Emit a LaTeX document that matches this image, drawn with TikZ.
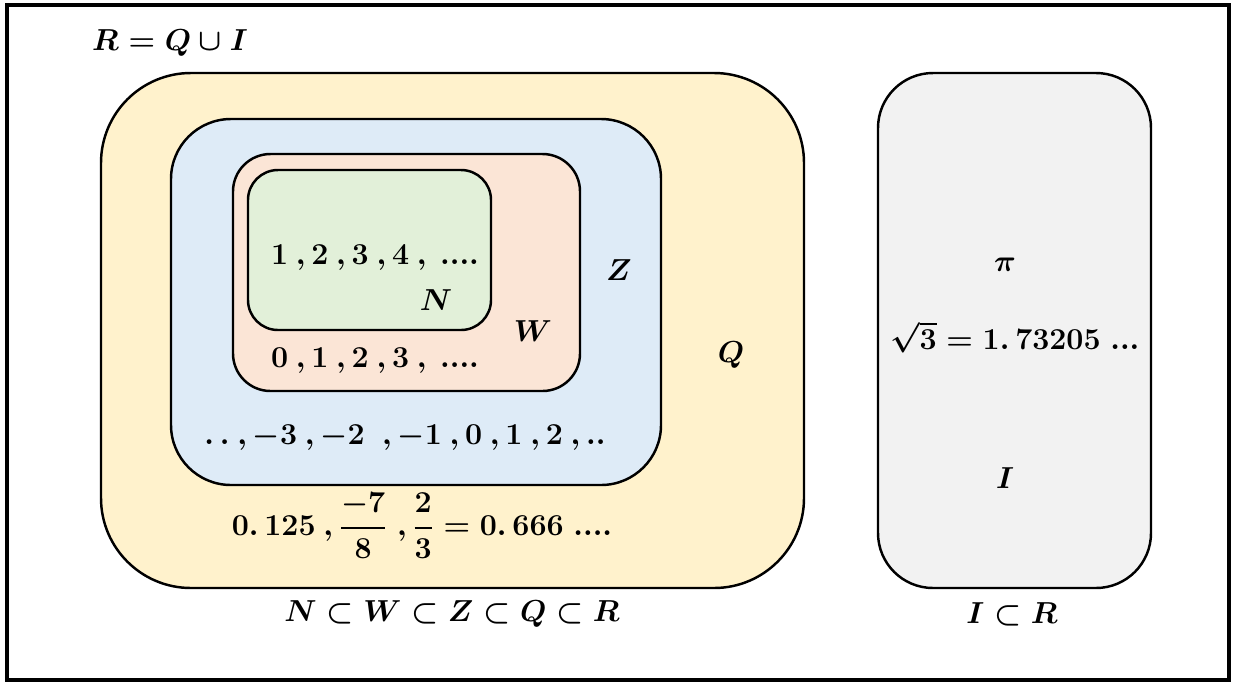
\documentclass[tikz,border=0pt]{standalone}
\usepackage{amsmath}
\definecolor{ink}{HTML}{000000}
\definecolor{qfill}{HTML}{FFF2CC}
\definecolor{zfill}{HTML}{DEEBF7}
\definecolor{wfill}{HTML}{FBE5D6}
\definecolor{nfill}{HTML}{E2F0D9}
\definecolor{ifill}{HTML}{F2F2F2}
\tikzset{
  setbox/.style={draw=ink,line width=1.4pt},
  lbl/.style={font=\fontsize{17.5}{21}\selectfont\boldmath,text=ink,inner sep=1pt}
}
\begin{document}
\begin{tikzpicture}[x=0.02cm,y=-0.02cm]
  \useasboundingbox (0,0) rectangle (1233,684);
  \draw[ink,line width=1.8pt] (7,5) rectangle (1229,680);
  \draw[setbox,fill=qfill,rounded corners=1.8cm] (101,73) rectangle (804,588);
  \draw[setbox,fill=zfill,rounded corners=1.2cm] (171,119) rectangle (661,485);
  \draw[setbox,fill=wfill,rounded corners=0.75cm] (233,154) rectangle (580,391);
  \draw[setbox,fill=nfill,rounded corners=0.6cm] (248,170) rectangle (491,330);
  \draw[setbox,fill=ifill,rounded corners=1.1cm] (878,73) rectangle (1151,588);
  \node[lbl] (union) at (170,43) {$R=Q\cup I$};
  \node[lbl] (natv) at (375,258) {$1\:,2\:,3\:,4\:,\:....$};
  \node[lbl] (natn) at (436,300) {$N$};
  \node[lbl] (whln) at (533,331) {$W$};
  \node[lbl] (whlv) at (375,361) {$0\:,1\:,2\:,3\:,\:....$};
  \node[lbl] (intn) at (619,270) {$Z$};
  \node[lbl] (intv) at (405,438) {$.\,.\:,-3\:,-2\;\:,-1\:,0\:,1\:,2\:,..$};
  \node[lbl] (ratn) at (731,355) {$Q$};
  \node[lbl] (ratv) at (422,526) {$0.\,125\:,\dfrac{-7}{8}\;,\dfrac{2}{3}=0.\,666\;....$};
  \node[lbl] (irrp) at (1005,265) {$\pi$};
  \node[lbl] (irrs) at (1015,337) {$\sqrt{3}=1.\,73205\;...$};
  \node[lbl] (irrn) at (1005,478) {$I$};
  \node[lbl] (chain) at (452,614) {$N\subset W\subset Z\subset Q\subset R$};
  \node[lbl] (irrsub) at (1012,614) {$I\subset R$};
\end{tikzpicture}
\end{document}
